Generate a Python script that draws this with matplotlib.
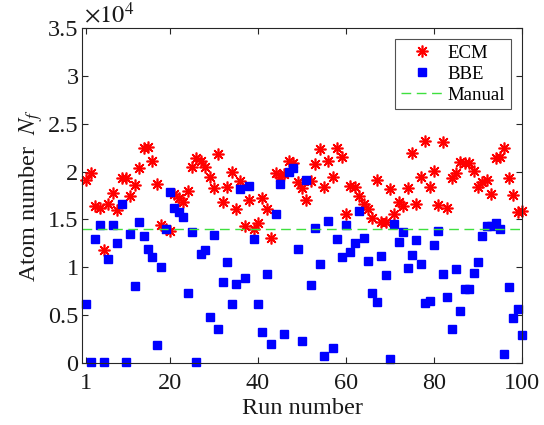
import numpy as np
import matplotlib
matplotlib.use("Agg")
import matplotlib.pyplot as plt

plt.rcParams['font.family'] = ['Liberation Serif', 'DejaVu Serif']
plt.rcParams['mathtext.fontset'] = 'stix'

# values in units of 1e4 atoms
ecm = [1.915, 1.99, 1.64, 1.62, 1.18, 1.66, 1.78, 1.60, 1.93, 1.93,
       1.74, 1.86, 2.04, 2.25, 2.26, 2.11, 1.87, 1.44, 1.40, 1.38,
       1.77, 1.72, 1.68, 1.80, 2.05, 2.14, 2.11, 2.05, 1.94, 1.83,
       2.18, 1.68, 1.84, 2.00, 1.61, 1.90, 1.43, 1.70, 1.40, 1.46,
       1.72, 1.61, 1.31, 1.98, 1.94, 1.97, 2.11, 2.09, 1.89, 1.83,
       1.70, 1.90, 2.08, 2.24, 1.84, 2.11, 1.94, 2.25, 2.15, 1.56,
       1.85, 1.84, 1.75, 1.66, 1.61, 1.51, 1.91, 1.47, 1.47, 1.82,
       1.56, 1.68, 1.64, 1.83, 2.19, 1.66, 1.94, 2.32, 1.84, 2.01,
       1.65, 2.31, 1.62, 1.93, 1.99, 2.10, 2.09, 2.09, 2.01, 1.84,
       1.89, 1.91, 1.77, 2.14, 2.15, 2.25, 1.93, 1.76, 1.58, 1.59]
bbe = [0.62, 0.01, 1.30, 1.44, 0.01, 1.09, 1.44, 1.25, 1.66, 0.01,
       1.35, 0.80, 1.47, 1.33, 1.19, 1.11, 0.19, 1.00, 1.40, 1.79,
       1.62, 1.58, 1.53, 0.73, 1.37, 0.01, 1.14, 1.18, 0.48, 1.34,
       0.36, 0.85, 1.06, 0.62, 0.83, 1.82, 0.89, 1.85, 1.30, 0.62,
       0.32, 0.93, 0.20, 1.56, 1.87, 0.30, 2.00, 2.04, 1.19, 0.23,
       1.91, 0.81, 1.41, 1.03, 0.07, 1.48, 0.16, 1.30, 1.11, 1.44,
       1.16, 1.25, 1.59, 1.31, 1.07, 0.73, 0.64, 1.12, 0.92, 0.04,
       1.45, 1.26, 1.37, 0.99, 1.13, 1.29, 1.03, 0.63, 0.65, 1.23,
       1.38, 0.93, 0.69, 0.36, 0.98, 0.54, 0.77, 0.77, 0.94, 1.06,
       1.33, 1.43, 1.43, 1.46, 1.40, 0.09, 0.79, 0.47, 0.56, 0.29]
manual = 1.40
runs = np.arange(1, len(ecm) + 1)
xticks = [1, 20, 40, 60, 80, 100]
yticks = [0, 0.5, 1, 1.5, 2, 2.5, 3, 3.5]
ytick_labels = ['0', '0.5', '1', '1.5', '2', '2.5', '3', '3.5']

FS = 17.5

fig = plt.figure(figsize=(5.44, 4.25), dpi=100)
ax = fig.add_axes([82/544, 1 - 363/425, (522-82)/544, (363-28)/425])

ax.plot(runs, ecm, linestyle='none', marker=(8, 2, 0), markersize=8.5,
        markeredgewidth=1.2, color='#ff0000', label='ECM', clip_on=False)
ax.plot(runs, bbe, linestyle='none', marker='s', markersize=6,
        markerfacecolor='#0000ff', markeredgecolor='#0000ff', label='BBE', clip_on=False)
ax.plot([0, 100], [manual, manual], linestyle='--', dashes=(7, 4), color='#3ee03e',
        linewidth=1.0, label='Manual')

ax.set_xlim(0, 100)
ax.set_ylim(0, 3.5)
ax.set_xticks(xticks)
ax.set_xticklabels([str(t) for t in xticks])
ax.set_yticks(yticks)
ax.set_yticklabels(ytick_labels)
ax.tick_params(direction='in', top=True, right=True, labelsize=FS, length=4,
               width=0.8, colors='#262626')
ax.tick_params(axis='y', pad=2.5)
ax.tick_params(axis='x', pad=7)
ax.tick_params(labelcolor='#1a1a1a')
for s in ax.spines.values():
    s.set_color('#262626')
    s.set_linewidth(0.8)

ax.set_xlabel('Run number', fontsize=FS, labelpad=3, color='#1a1a1a')
ax.set_ylabel('Atom number  $N_f$', fontsize=FS, labelpad=2, color='#1a1a1a')
ax.text(0.005, 1.0, r'$\times10^{4}$', transform=ax.transAxes, ha='left', va='bottom',
        fontsize=FS, color='#1a1a1a')

leg = ax.legend(loc='upper right', bbox_to_anchor=(1 - 11/440, 1 - 11/335),
                fontsize=13.5, frameon=True, fancybox=False, edgecolor='#262626',
                borderaxespad=0, handlelength=2.2, handletextpad=0.3,
                labelspacing=0.2, borderpad=0.3)
leg.get_frame().set_linewidth(0.8)

fig.savefig('out.png', dpi=100)
